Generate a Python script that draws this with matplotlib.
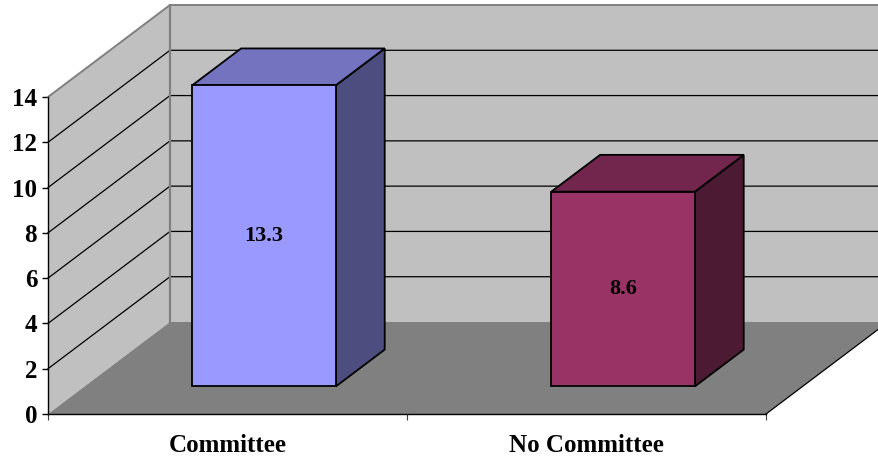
import matplotlib
matplotlib.use("Agg")
import matplotlib.pyplot as plt
from matplotlib.patches import Polygon

# ---- data ----
categories = ["Committee", "No Committee"]
values = [13.3, 8.6]
value_labels = ["13.3", "8.6"]
yticks = [0, 2, 4, 6, 8, 10, 12, 14]

# ---- styles ----
front_colors = ["#9999FF", "#993366"]
top_colors = ["#7373BF", "#73264D"]
side_colors = ["#4D4D80", "#4D1A33"]
WALL = "#C0C0C0"
FLOOR = "#808080"
EDGE_GRAY = "#808080"

W, H = 879, 458
fig = plt.figure(figsize=(W / 100, H / 100), dpi=100)
# front plane of the chart in pixels
x0, x1, yb, yt = 48, 766, 414, 97
ax = fig.add_axes([x0 / W, (H - yb) / H, (x1 - x0) / W, (yb - yt) / H])
ncat = len(categories)
vmax = yticks[-1]
ax.set_xlim(0, ncat)
ax.set_ylim(0, vmax)
ax.patch.set_visible(False)

# oblique depth offsets (data units for a full depth of 1)
px_per_cat = (x1 - x0) / ncat
px_per_val = (yb - yt) / vmax
DX = 122 / px_per_cat
DY = 92 / px_per_val


def P(x, v, d):
    return (x + d * DX, v + d * DY)


def poly(pts, fc, ec="none", lw=0, z=1):
    p = Polygon(pts, closed=True, facecolor=fc, edgecolor=ec, linewidth=lw,
                zorder=z, clip_on=False, joinstyle="miter")
    ax.add_patch(p)


# walls
poly([P(0, 0, 0), P(0, vmax, 0), P(0, vmax, 1), P(0, 0, 1)], WALL, z=1)
poly([P(0, 0, 1), P(ncat, 0, 1), P(ncat, vmax, 1), P(0, vmax, 1)], WALL, z=1)

# gridlines
for v in yticks[1:-1]:
    a, b = P(0, v, 0), P(0, v, 1)
    c = P(ncat, v, 1)
    ax.plot([a[0], b[0], c[0]], [a[1], b[1], c[1]], color="black", lw=0.9,
            zorder=2, clip_on=False, solid_joinstyle="miter")
# top edges and back-left corner edge (gray)
a, b, c = P(0, vmax, 0), P(0, vmax, 1), P(ncat, vmax, 1)
ax.plot([a[0], b[0], c[0]], [a[1], b[1], c[1]], color=EDGE_GRAY, lw=1.4,
        zorder=2, clip_on=False)
a, b = P(0, 0, 1), P(0, vmax, 1)
ax.plot([a[0], b[0]], [a[1], b[1]], color=EDGE_GRAY, lw=1.6, zorder=2, clip_on=False)

# floor
poly([P(0, 0, 0), P(ncat, 0, 0), P(ncat, 0, 1), P(0, 0, 1)], FLOOR, z=3)
a, b = P(ncat, 0, 0), P(ncat, 0, 1)
ax.plot([a[0], b[0]], [a[1], b[1]], color="black", lw=0.9, zorder=3.5, clip_on=False)

# bars
bw0, bw1 = 0.3, 0.7   # position within category
d0, d1 = 0.3, 0.7     # depth range
for i, v in enumerate(values):
    xl, xr = i + bw0, i + bw1
    # side face
    poly([P(xr, 0, d0), P(xr, 0, d1), P(xr, v, d1), P(xr, v, d0)],
         side_colors[i], "black", 1.3, z=5)
    # top face
    poly([P(xl, v, d0), P(xr, v, d0), P(xr, v, d1), P(xl, v, d1)],
         top_colors[i], "black", 1.3, z=5)
    # front face
    poly([P(xl, 0, d0), P(xr, 0, d0), P(xr, v, d0), P(xl, v, d0)],
         front_colors[i], "black", 1.3, z=6)
    cx, cy = P(i + 0.5, v / 2, d0)
    ax.text(cx, cy, value_labels[i], ha="center", va="center",
            fontfamily="Liberation Serif", fontweight="bold", fontsize=16,
            zorder=7)

# axes
for s in ["top", "right"]:
    ax.spines[s].set_visible(False)
for s in ["left", "bottom"]:
    ax.spines[s].set_color("black")
    ax.spines[s].set_linewidth(1.0)
    ax.spines[s].set_zorder(4)

ax.set_yticks(yticks)
ax.set_yticklabels([str(t) for t in yticks])
ax.tick_params(axis="y", direction="out", length=4.3, width=1.0, pad=3.5,
               labelsize=18, color="black")
ax.set_xticks(range(ncat + 1))
ax.set_xticklabels([""] * (ncat + 1))
ax.tick_params(axis="x", which="major", direction="out", length=4.3, width=0.8,
               color="#404040")
ax.set_xticks([i + 0.5 for i in range(ncat)], minor=True)
ax.set_xticklabels(categories, minor=True)
ax.tick_params(axis="x", which="minor", length=0, pad=14.5, labelsize=18)
for lab in ax.get_yticklabels() + ax.get_xticklabels(minor=True):
    lab.set_fontfamily("Liberation Serif")
    lab.set_fontweight("bold")

fig.savefig("out.png", dpi=100)
